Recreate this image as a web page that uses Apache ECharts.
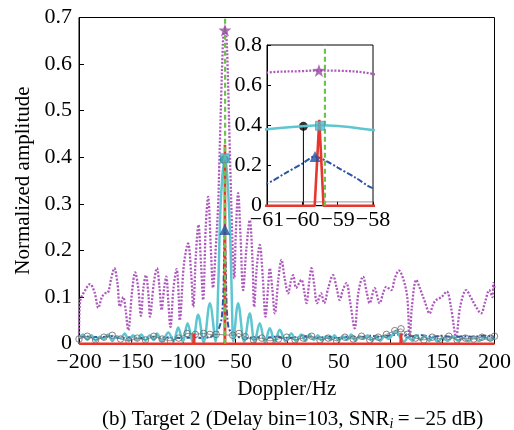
<!DOCTYPE html>
<html><head><meta charset="utf-8">
<script src="https://cdn.jsdelivr.net/npm/echarts@6/dist/echarts.min.js"></script>
<style>html,body{margin:0;padding:0;background:#fff}#c{width:514px;height:430px}</style>
</head><body><div id="c"></div>
<script>
// ---- data ----
const xTicksMain = [-200, -150, -100, -50, 0, 50, 100, 150, 200];
const yTicksMain = [0, 0.1, 0.2, 0.3, 0.4, 0.5, 0.6, 0.7];
const xTicksInset = [-61, -60, -59, -58];
const yTicksInset = [0, 0.2, 0.4, 0.6, 0.8];

const magenta = [[-200,0.015],[-199,0.09],[-194,0.115],[-189.4,0.128],[-185,0.11],[-181.4,0.077],[-178,0.1],[-175,0.108],[-172,0.11],[-169,0.14],[-166,0.162],[-163,0.13],[-160.6,0.08],[-157.4,0.1],[-155,0.07],[-152.6,0.029],[-149,0.11],[-146,0.153],[-143,0.12],[-140.4,0.06],[-138,0.12],[-135.6,0.147],[-133,0.1],[-131.7,0.058],[-128,0.13],[-125,0.162],[-122.5,0.12],[-120.5,0.072],[-118,0.12],[-116,0.144],[-114,0.09],[-112,0.036],[-109,0.12],[-106,0.16],[-104,0.1],[-103,0.05],[-99,0.17],[-95,0.215],[-92,0.15],[-90,0.079],[-87.5,0.19],[-85,0.255],[-82.5,0.17],[-80.5,0.094],[-78,0.25],[-75.7,0.315],[-73,0.2],[-71,0.12],[-68.5,0.2],[-66,0.3],[-65,0.38],[-64,0.46],[-63,0.54],[-62,0.61],[-61,0.662],[-60,0.67],[-59.55,0.673],[-59,0.672],[-58,0.656],[-57,0.6],[-56,0.52],[-55,0.43],[-54,0.35],[-53,0.27],[-52,0.2],[-50.5,0.14],[-49,0.24],[-46.8,0.323],[-44.5,0.23],[-42,0.115],[-39,0.2],[-35.6,0.265],[-33,0.18],[-31.4,0.079],[-29,0.16],[-26,0.212],[-23,0.14],[-20.5,0.058],[-18,0.12],[-16.3,0.162],[-14,0.12],[-11.5,0.065],[-8,0.14],[-5.1,0.18],[-2,0.14],[1.3,0.108],[4,0.135],[6.1,0.147],[9,0.12],[14.1,0.137],[17,0.11],[19,0.087],[21.5,0.13],[23.8,0.162],[26.5,0.125],[29.2,0.087],[33,0.108],[36,0.087],[40,0.12],[44.5,0.147],[48,0.12],[51,0.094],[54,0.115],[57.4,0.13],[61,0.09],[65.4,0.033],[69,0.11],[73.4,0.144],[77,0.11],[79.8,0.087],[84.6,0.119],[89.4,0.087],[93,0.11],[95.9,0.122],[100.6,0.115],[104,0.14],[108,0.157],[112,0.14],[116,0.1],[118.3,0.008],[120.5,0.08],[124.7,0.137],[128,0.12],[133,0.09],[137.5,0.065],[141,0.085],[144,0.094],[149,0.1],[154,0.112],[158,0.08],[163,0.015],[167,0.08],[172.8,0.115],[177,0.1],[182,0.08],[187,0.065],[191,0.09],[195,0.115],[198,0.1],[199,0.13],[200,0.12]];

const cyan = [[-200,0.012],[-196,0.02],[-192,0.008],[-188,0.018],[-184,0.006],[-180,0.015],[-176,0.01],[-172,0.02],[-168,0.006],[-164,0.016],[-160,0.012],[-156,0.022],[-152,0.006],[-148,0.018],[-144,0.008],[-140,0.02],[-136,0.006],[-132,0.018],[-128,0.008],[-125,0.022],[-120,0.005],[-114,0.024],[-109,0.005],[-104.5,0.035],[-100,0.004],[-95.5,0.044],[-90.5,0.003],[-85.3,0.062],[-80,0.003],[-74,0.087],[-68.5,0.005],[-66,0.12],[-64,0.28],[-62,0.36],[-61,0.38],[-60,0.395],[-59.5,0.4],[-58,0.377],[-57,0.35],[-56,0.31],[-54,0.2],[-52.5,0.06],[-51.5,0.005],[-46.8,0.087],[-41,0.004],[-35.6,0.065],[-31,0.003],[-26,0.044],[-21,0.003],[-16.3,0.033],[-11.5,0.004],[-6.7,0.03],[-1,0.005],[4.5,0.022],[9,0.005],[14,0.02],[18,0.006],[22,0.02],[26,0.008],[30,0.018],[34,0.006],[38,0.016],[42,0.008],[46,0.018],[50,0.006],[54,0.016],[58,0.008],[62,0.02],[66,0.006],[70,0.016],[74,0.01],[78,0.018],[82,0.006],[86,0.014],[90,0.006],[94,0.016],[98,0.01],[102,0.02],[105.5,0.027],[109,0.015],[113,0.004],[117,0.015],[121,0.006],[125,0.018],[129,0.008],[133,0.016],[137,0.006],[141,0.014],[145,0.004],[150,0.012],[155,0.006],[160,0.016],[165,0.006],[170,0.012],[175,0.005],[180,0.014],[185,0.006],[190,0.012],[195,0.008],[200,0.012]];

const blue = [[-200,0.016],[-190,0.015],[-180,0.014],[-170,0.016],[-160,0.012],[-150,0.014],[-140,0.012],[-130,0.015],[-120,0.013],[-110,0.014],[-100,0.012],[-90,0.014],[-80,0.012],[-72,0.016],[-68,0.022],[-65,0.035],[-63,0.05],[-62,0.07],[-61,0.111],[-60.5,0.16],[-60,0.21],[-59.64,0.245],[-59.3,0.22],[-59,0.19],[-58.5,0.14],[-58,0.087],[-57,0.05],[-56,0.035],[-54,0.025],[-51,0.018],[-46,0.014],[-40,0.012],[-30,0.014],[-20,0.013],[-10,0.015],[0,0.012],[10,0.014],[20,0.016],[30,0.013],[40,0.015],[50,0.012],[60,0.016],[70,0.014],[80,0.017],[90,0.015],[100,0.018],[110,0.02],[120,0.016],[130,0.018],[140,0.015],[150,0.017],[160,0.014],[170,0.016],[180,0.015],[190,0.017],[200,0.015]];

const gray = [[-200,0.01],[-192,0.016],[-184,0.008],[-176,0.014],[-168,0.018],[-160,0.01],[-152,0.006],[-144,0.012],[-136,0.008],[-128,0.016],[-120,0.01],[-112,0.006],[-104,0.012],[-96,0.022],[-88,0.02],[-80,0.022],[-74,0.02],[-68,0.02],[-52,0.018],[-46,0.022],[-40,0.015],[-32,0.008],[-24,0.012],[-16,0.006],[-8,0.01],[0,0.014],[8,0.008],[16,0.012],[24,0.016],[32,0.008],[40,0.012],[48,0.006],[56,0.014],[64,0.01],[72,0.016],[80,0.008],[88,0.014],[96,0.02],[104,0.028],[110,0.032],[116,0.02],[124,0.012],[132,0.008],[140,0.014],[148,0.01],[156,0.016],[164,0.008],[172,0.012],[180,0.01],[188,0.014],[196,0.012],[200,0.016]];

const red = [[-200,0],[-89.8,0],[-89.4,0.022],[-89,0],[-59.65,0],[-59.52,0.427],[-59.4,0],[109.6,0],[110,0.022],[110.4,0],[200,0]];
const green = [[-59.36,0],[-59.36,0.8]];
const blackStem = [[-59.97,0],[-59.97,0.395]];

const magentaPeak = [[-59.53,0.673]];
const cyanPeak = [[-59.5,0.398]];
const bluePeak = [[-59.64,0.245]];
const blackPeak = [[-59.97,0.395]];

// ---- chart ----
const FONT = 'Liberation Serif';
const minus = v => (v < 0 ? '\u2212' + Math.abs(v) : String(v));
const yfmt = v => (v === 0 ? '0' : (+v).toFixed(1));

function seriesFor(gi) {
  const base = {xAxisIndex: gi, yAxisIndex: gi, animation: false, clip: true};
  return [
    Object.assign({type:'line', data: magenta, smooth: 0.35, symbol:'none', z: 2,
      lineStyle:{color:'#ad58bd', width:2.3, type:[2,1.6]}}, base),
    Object.assign({type:'line', data: blue, smooth: 0.3, symbol:'none', z: 4,
      lineStyle:{color:'#2a55a8', width:2, type:[6,2,2,2]}}, base),
    Object.assign({type:'line', data: blackStem, symbol:'none', z: 5,
      lineStyle:{color:'#000', width:1}}, base),
    Object.assign({type:'scatter', data: blackPeak, symbol:'circle', symbolSize: 9, z: 5,
      itemStyle:{color:'#000'}}, base),
    Object.assign({type:'line', data: cyan, smooth: 0.35, symbol:'none', z: 6,
      lineStyle:{color:'#5ec6d0', width:2.5}}, base),
    Object.assign({type:'line', data: gray, symbol:'none', z: 6.5,
      lineStyle:{color:'#666', width:0.7}}, base),
    Object.assign({type:'scatter', data: gray, symbol:'circle', symbolSize: 6.5, z: 6.6,
      itemStyle:{color:'rgba(0,0,0,0)', borderColor:'#666', borderWidth:1}}, base),
    Object.assign({type:'line', data: red, symbol:'none', z: 7,
      lineStyle:{color:'#e8352d', width:2.6}}, base, {clip: gi === 1}),
    Object.assign({type:'line', data: green, symbol:'none', z: 8,
      lineStyle:{color:'#6cc24a', width:2.2, type:[5,3]}}, base),
    Object.assign({type:'scatter', data: cyanPeak, symbol:'rect', symbolSize: 9, z: 9,
      itemStyle:{color:'#53bccb', borderColor:'#3a9fb0', borderWidth:0.8}}, base),
    Object.assign({type:'scatter', data: bluePeak, symbol:'triangle', symbolSize: 11, z: 9,
      itemStyle:{color:'#2050a5'}}, base),
    Object.assign({type:'scatter', data: magentaPeak, symbol:'path://M0,-10 L2.35,-3.24 L9.51,-3.09 L3.8,1.24 L5.88,8.09 L0,4 L-5.88,8.09 L-3.8,1.24 L-9.51,-3.09 L-2.35,-3.24 Z', symbolSize: 13, z: 9,
      itemStyle:{color:'#9a4aa5'}}, base)
  ];
}

const tickText = {color:'#000', fontFamily: FONT, fontSize: 22};
const nameText = {color:'#000', fontFamily: FONT, fontSize: 21};
const chart = echarts.init(document.getElementById('c'), null, {renderer:'canvas'});
chart.setOption({
  backgroundColor:'#fff',
  animation:false,
  title:{
    text:'(b) Target 2 (Delay bin=103, SNR{sub|i}\u2009=\u2009\u221225 dB)',
    left:97, top:402,
    textStyle:{fontFamily:FONT, fontSize:21, fontWeight:'normal', color:'#000',
      rich:{sub:{fontFamily:FONT, fontSize:14, fontStyle:'italic', color:'#000', padding:[10,0,0,0]}}}
  },
  grid:[
    {left:79, right:19, top:17.5, bottom:86.3, show:true, borderColor:'#000', borderWidth:1, backgroundColor:'transparent'},
    {left:267, right:141, top:45, bottom:224.3, show:true, borderColor:'#000', borderWidth:1, backgroundColor:'transparent'}
  ],
  xAxis:[
    {type:'value', gridIndex:0, min:-200, max:200, interval:50,
      name:'Doppler/Hz', nameLocation:'middle', nameGap:35, nameTextStyle:nameText,
      axisLine:{show:true, onZero:false, lineStyle:{color:'#000', width:1}},
      axisTick:{show:true, inside:true, length:5, lineStyle:{color:'#000'}},
      axisLabel:Object.assign({margin:8, formatter:minus}, tickText),
      splitLine:{show:false}},
    {type:'value', gridIndex:1, min:-61, max:-58, interval:1,
      axisLine:{show:true, onZero:false, lineStyle:{color:'#000', width:1}},
      axisTick:{show:true, inside:true, length:4, lineStyle:{color:'#000'}},
      axisLabel:Object.assign({margin:4, formatter:minus}, tickText),
      splitLine:{show:false}}
  ],
  yAxis:[
    {type:'value', gridIndex:0, min:0, max:0.7, interval:0.1,
      name:'Normalized amplitude', nameLocation:'middle', nameGap:29, nameTextStyle:nameText,
      axisLine:{show:true, onZero:false, lineStyle:{color:'#000', width:1}},
      axisTick:{show:true, inside:true, length:5, lineStyle:{color:'#000'}},
      axisLabel:Object.assign({margin:7, formatter:yfmt}, tickText),
      splitLine:{show:false}},
    {type:'value', gridIndex:1, min:0, max:0.8, interval:0.2,
      axisLine:{show:true, onZero:false, lineStyle:{color:'#000', width:1}},
      axisTick:{show:true, inside:true, length:4, lineStyle:{color:'#000'}},
      axisLabel:Object.assign({margin:5, formatter:yfmt}, tickText),
      splitLine:{show:false}}
  ],
  series: seriesFor(0).concat(seriesFor(1))
});
</script></body></html>
